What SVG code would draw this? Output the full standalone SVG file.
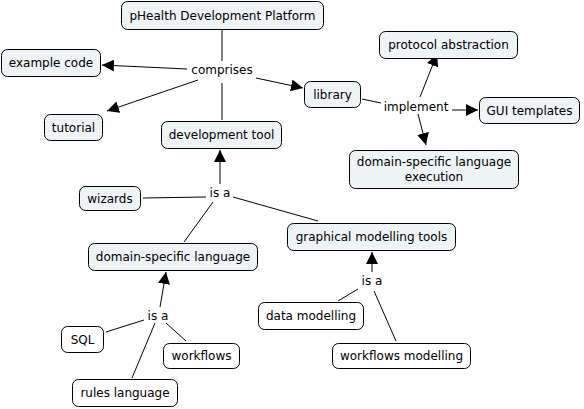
<svg xmlns="http://www.w3.org/2000/svg" width="584" height="409" viewBox="0 0 584 409">
<style>
.n rect{fill:#eef3f5;stroke:#000;stroke-width:1}
.w rect{fill:#fff}
text{font-family:"DejaVu Sans",Verdana,sans-serif;font-size:12px;fill:#000;text-anchor:middle}
#connectors line{stroke:#000;stroke-width:1}
#connectors .a{marker-end:url(#arr)}
</style>
<defs>
<marker id="arr" viewBox="0 0 10 10" refX="10" refY="5" markerWidth="12" markerHeight="12" markerUnits="userSpaceOnUse" orient="auto">
<path d="M0,0 L10,5 L0,10 z" fill="#000"/>
</marker>
</defs>
<rect width="584" height="409" fill="#fff"/>
<g id="connectors">
<line x1="222" y1="30" x2="222" y2="61"/>
<line class="a" x1="187" y1="69" x2="102" y2="65"/>
<line class="a" x1="198" y1="80" x2="107" y2="111"/>
<line x1="222" y1="83" x2="222" y2="120"/>
<line class="a" x1="256" y1="78" x2="303" y2="88"/>
<line x1="362" y1="99" x2="381" y2="103"/>
<line class="a" x1="420" y1="97" x2="437" y2="54"/>
<line class="a" x1="452" y1="110" x2="478" y2="110"/>
<line class="a" x1="418" y1="114" x2="426" y2="145"/>
<line class="a" x1="220" y1="184" x2="220" y2="150"/>
<line x1="143" y1="198" x2="206" y2="197"/>
<line x1="184" y1="242" x2="213" y2="202"/>
<line x1="318" y1="221" x2="233" y2="197"/>
<line class="a" x1="160" y1="307" x2="166" y2="272"/>
<line x1="106" y1="332" x2="144" y2="320"/>
<line x1="186" y1="341" x2="166" y2="323"/>
<line x1="132" y1="378" x2="155" y2="323"/>
<line class="a" x1="372" y1="272" x2="372" y2="252"/>
<line x1="338" y1="301" x2="358" y2="289"/>
<line x1="396" y1="341" x2="374" y2="291"/>
</g>
<g id="labels">
<text x="222" y="74">comprises</text>
<text x="416" y="111">implement</text>
<text x="220" y="197">is a</text>
<text x="158" y="320">is a</text>
<text x="372" y="285">is a</text>
</g>
<g id="n-platform" class="n"><rect x="121.5" y="1.5" width="202" height="28" rx="6"/><text x="222.5" y="19.5">pHealth Development Platform</text></g>
<g id="n-example" class="n"><rect x="1.5" y="49.5" width="99" height="27" rx="6"/><text x="51" y="67">example code</text></g>
<g id="n-tutorial" class="n"><rect x="44.5" y="114.5" width="58" height="26" rx="6"/><text x="73.5" y="131.5">tutorial</text></g>
<g id="n-devtool" class="n"><rect x="161.5" y="121.5" width="120" height="27" rx="6"/><text x="221.5" y="139">development tool</text></g>
<g id="n-library" class="n"><rect x="304.5" y="81.5" width="56" height="26" rx="6"/><text x="332.5" y="98.5">library</text></g>
<g id="n-protocol" class="n"><rect x="379.5" y="31.5" width="138" height="27" rx="6"/><text x="448.5" y="49">protocol abstraction</text></g>
<g id="n-gui" class="n"><rect x="479.5" y="97.5" width="100" height="26" rx="6"/><text x="529.5" y="114.5">GUI templates</text></g>
<g id="n-dslexec" class="n"><rect x="349.5" y="150.5" width="169" height="38" rx="6"/><text x="434" y="166">domain-specific language</text><text x="434" y="181">execution</text></g>
<g id="n-wizards" class="n"><rect x="79.5" y="186.5" width="61" height="24" rx="6"/><text x="110" y="202.5">wizards</text></g>
<g id="n-dsl" class="n"><rect x="88.5" y="243.5" width="169" height="27" rx="6"/><text x="173" y="261">domain-specific language</text></g>
<g id="n-graphical" class="n"><rect x="287.5" y="223.5" width="168" height="27" rx="6"/><text x="371.5" y="241">graphical modelling tools</text></g>
<g id="n-sql" class="n w"><rect x="61.5" y="326.5" width="42" height="26" rx="6"/><text x="82.5" y="343.5">SQL</text></g>
<g id="n-workflows" class="n w"><rect x="163.5" y="343.5" width="76" height="25" rx="6"/><text x="201.5" y="360">workflows</text></g>
<g id="n-rules" class="n w"><rect x="72.5" y="379.5" width="105" height="27" rx="6"/><text x="125" y="397">rules language</text></g>
<g id="n-data" class="n w"><rect x="258.5" y="302.5" width="105" height="27" rx="6"/><text x="311" y="320">data modelling</text></g>
<g id="n-wfmodel" class="n w"><rect x="332.5" y="343.5" width="138" height="25" rx="6"/><text x="401.5" y="360">workflows modelling</text></g>
</svg>
